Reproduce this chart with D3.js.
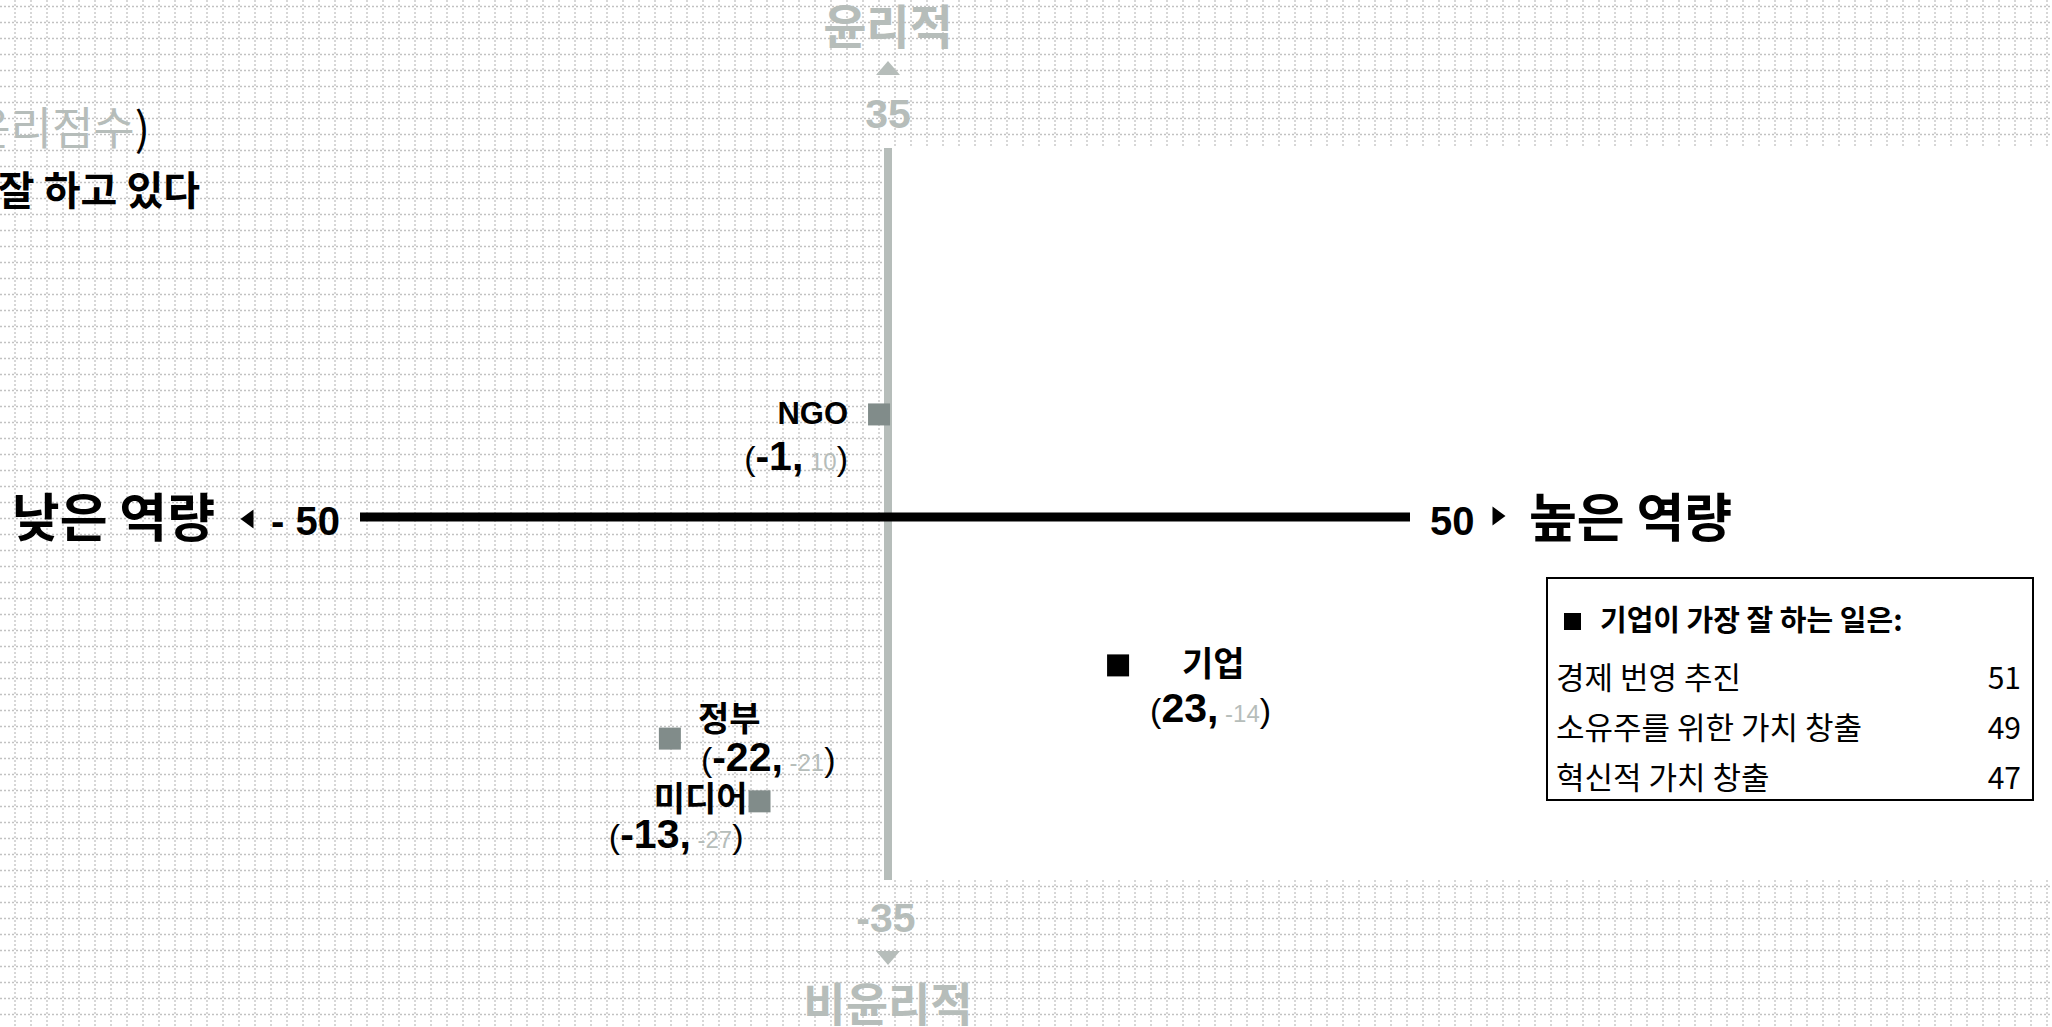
<!DOCTYPE html>
<html>
<head>
<meta charset="utf-8">
<script src="https://cdn.jsdelivr.net/npm/d3@7"></script>
<style>
  body { margin: 0; background: #fff; }
  svg { display: block; }
</style>
</head>
<body>
<script>
// data
var entities   = ["NGO", "기업", "정부", "미디어"];
var competence = [-1, 23, -22, -13];   // x : 역량
var ethics     = [10, -14, -21, -27];  // y : 윤리

var xTicks = [-50, 50];
var yTicks = [35, -35];
var xLabels = ["낮은 역량", "높은 역량"];
var yLabels = ["윤리적", "비윤리적"];

var legendTitle  = "기업이 가장 잘 하는 일은:";
var legendItems  = ["경제 번영 추진", "소유주를 위한 가치 창출", "혁신적 가치 창출"];
var legendValues = [51, 49, 47];

var titleGray  = "윤리점수";
var titleLine2 = "잘 하고 있다";

// styles
var W = 2052, H = 1027;
var GRAY = "#b6bdba", MARK_GRAY = "#818c8a";
var KR = "'Noto Sans CJK KR', 'Noto Sans', sans-serif";
var LAT = "'Liberation Sans', Arial, sans-serif";
var markerColor = {"NGO": MARK_GRAY, "기업": "#000", "정부": MARK_GRAY, "미디어": MARK_GRAY};
var labelLayout = {
  "NGO":  {nx: -31, ny: 10, na: "end",   vx: -31, vy: 56, va: "end",   font: LAT, size: 31},
  "기업":  {nx: 64,  ny: 11, na: "start", vx: 32,  vy: 57, va: "start", font: KR, size: 34},
  "정부":  {nx: 28,  ny: -8, na: "start", vx: 31,  vy: 32, va: "start", font: KR, size: 34},
  "미디어": {nx: -12, ny: 10, na: "end",   vx: -16, vy: 47, va: "end",   font: KR, size: 34}
};

var rows = entities.map(function(d, i){ return {name: d, x: competence[i], y: ethics[i]}; });

var x = d3.scaleLinear().domain([-50, 50]).range([391, 1387]);
var y = d3.scaleLinear().domain([-35, 35]).range([885, 153]);

var svg = d3.select("body").append("svg").attr("width", W).attr("height", H);

// dotted grid background
var grid = svg.append("g").attr("stroke", "#c2c2c2").attr("stroke-width", 1.3).attr("stroke-dasharray", "2,2");
grid.selectAll("line.v").data(d3.range(15, W, 16)).join("line")
    .attr("class", "v").attr("x1", function(d){return d;}).attr("x2", function(d){return d;})
    .attr("y1", 0).attr("y2", H);
grid.selectAll("line.h").data(d3.range(6.5, H, 16)).join("line")
    .attr("class", "h").attr("y1", function(d){return d;}).attr("y2", function(d){return d;})
    .attr("x1", 0).attr("x2", W);

// white upper-right panel
var panelTop = y(yTicks[0]) - 5, panelBottom = y(yTicks[1]) - 5;
svg.append("rect").attr("x", x(0) - 4).attr("y", panelTop)
    .attr("width", W - x(0) + 4).attr("height", panelBottom - panelTop).attr("fill", "#fff");

// vertical (ethics) axis
var cx = x(0) - 1;
svg.append("line").attr("x1", cx).attr("x2", cx).attr("y1", panelTop).attr("y2", panelBottom)
    .attr("stroke", GRAY).attr("stroke-width", 8);

// horizontal (competence) axis
var y0 = y(0) - 2;
var xs = x(xTicks[0]) - 31, xe = x(xTicks[1]) + 23;
svg.append("line").attr("x1", xs).attr("x2", xe).attr("y1", y0).attr("y2", y0)
    .attr("stroke", "#000").attr("stroke-width", 9);

// x axis end labels
svg.append("text").attr("x", xs - 20).attr("y", y0 + 18).attr("text-anchor", "end")
    .style("font", "bold 40px " + LAT).text("- " + Math.abs(xTicks[0]));
svg.append("path").attr("d", "M6.5,-9.5L6.5,9.5L-6.5,0Z").attr("transform", "translate(" + (xs - 113) + "," + (y0 + 2) + ")");
svg.append("text").attr("x", xs - 145).attr("y", y0 + 20).attr("text-anchor", "end")
    .style("font", "bold 52px " + KR).text(xLabels[0]);

svg.append("text").attr("x", xe + 20).attr("y", y0 + 18)
    .style("font", "bold 40px " + LAT).text(xTicks[1]);
svg.append("path").attr("d", "M-6.5,-9.5L-6.5,9.5L6.5,0Z").attr("transform", "translate(" + (xe + 89) + "," + (y0 - 1) + ")");
svg.append("text").attr("x", xe + 119).attr("y", y0 + 20)
    .style("font", "bold 52px " + KR).text(xLabels[1]);

// y axis end labels
svg.append("text").attr("x", cx).attr("y", panelTop - 20).attr("text-anchor", "middle").attr("fill", GRAY)
    .style("font", "bold 41px " + LAT).text(yTicks[0]);
svg.append("path").attr("d", "M-12,7L12,7L0,-7Z").attr("fill", GRAY)
    .attr("transform", "translate(" + cx + "," + (panelTop - 80) + ")");
svg.append("text").attr("x", cx).attr("y", 44).attr("text-anchor", "middle").attr("fill", GRAY)
    .style("font", "bold 47px " + KR).text(yLabels[0]);

svg.append("text").attr("x", cx - 2).attr("y", panelBottom + 52).attr("text-anchor", "middle").attr("fill", GRAY)
    .style("font", "bold 41px " + LAT).text(yTicks[1]);
svg.append("path").attr("d", "M-12,-7L12,-7L0,7Z").attr("fill", GRAY)
    .attr("transform", "translate(" + cx + "," + (panelBottom + 78) + ")");
svg.append("text").attr("x", cx).attr("y", 1021).attr("text-anchor", "middle").attr("fill", GRAY)
    .style("font", "bold 46px " + KR).text(yLabels[1]);

// cut-off title at top-left
var t1 = svg.append("text").attr("x", 150).attr("y", 145).attr("text-anchor", "end")
    .style("font", "45px " + KR);
t1.append("tspan").attr("fill", GRAY).text(titleGray);
t1.append("tspan").attr("fill", "#000").text(")");
svg.append("text").attr("x", 200).attr("y", 205).attr("text-anchor", "end")
    .style("font", "bold 40px " + KR).text(titleLine2);

// markers
svg.append("g").selectAll("rect").data(rows).join("rect")
    .attr("x", function(d){ return x(d.x) - 11; })
    .attr("y", function(d){ return y(d.y) - 11; })
    .attr("width", 22).attr("height", 22)
    .attr("fill", function(d){ return markerColor[d.name]; });

// names
svg.append("g").selectAll("text").data(rows).join("text")
    .attr("x", function(d){ return x(d.x) + labelLayout[d.name].nx; })
    .attr("y", function(d){ return y(d.y) + labelLayout[d.name].ny; })
    .attr("text-anchor", function(d){ return labelLayout[d.name].na; })
    .style("font-family", function(d){ return labelLayout[d.name].font; })
    .style("font-weight", "bold")
    .style("font-size", function(d){ return labelLayout[d.name].size + "px"; })
    .text(function(d){ return d.name; });

// (competence, ethics) value labels
var vl = svg.append("g").selectAll("text").data(rows).join("text")
    .attr("x", function(d){ return x(d.x) + labelLayout[d.name].vx; })
    .attr("y", function(d){ return y(d.y) + labelLayout[d.name].vy; })
    .attr("text-anchor", function(d){ return labelLayout[d.name].va; })
    .style("font-family", LAT);
vl.append("tspan").style("font-size", "34px").text("(");
vl.append("tspan").style("font-size", "41px").style("font-weight", "bold").text(function(d){ return d.x + ","; });
vl.append("tspan").style("font-size", "24px").attr("fill", GRAY).text(function(d){ return " " + d.y; });
vl.append("tspan").style("font-size", "34px").text(")");

// legend box
var lg = svg.append("g");
lg.append("rect").attr("x", 1547).attr("y", 578).attr("width", 486).attr("height", 222)
    .attr("fill", "#fff").attr("stroke", "#000").attr("stroke-width", 2);
lg.append("rect").attr("x", 1564).attr("y", 613).attr("width", 17).attr("height", 17).attr("fill", "#000");
lg.append("text").attr("x", 1600).attr("y", 631).style("font", "bold 29px " + KR).text(legendTitle);
lg.selectAll("text.item").data(legendItems).join("text").attr("class", "item")
    .attr("x", 1556).attr("y", function(d, i){ return 689 + i * 50; })
    .style("font", "31px " + KR).text(function(d){ return d; });
lg.selectAll("text.val").data(legendValues).join("text").attr("class", "val")
    .attr("x", 2021).attr("y", function(d, i){ return 689 + i * 50; }).attr("text-anchor", "end")
    .style("font", "30px " + KR).text(function(d){ return d; });
</script>
</body>
</html>
